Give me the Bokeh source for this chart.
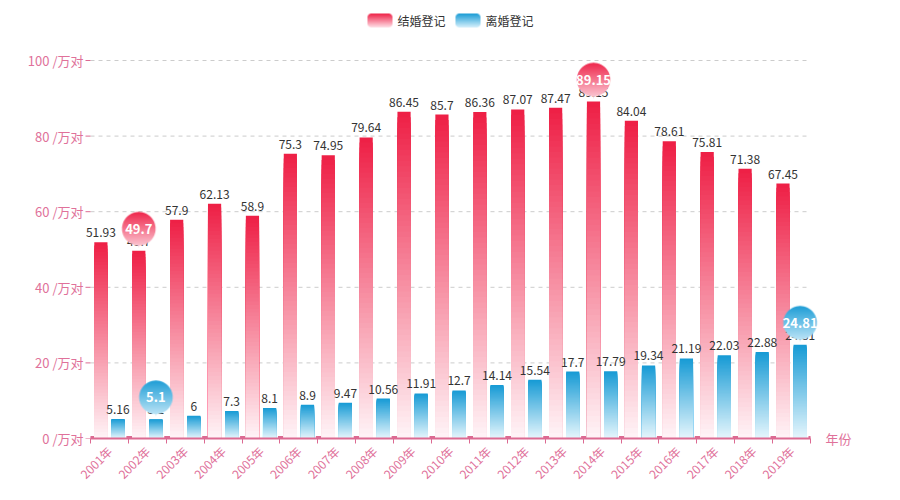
import numpy as np
from bokeh.plotting import figure
from bokeh.models import ColumnDataSource, FixedTicker, Range1d, LinearAxis
from bokeh.core.properties import value
from bokeh.embed import file_html
from bokeh.resources import INLINE

# ---------------- data ----------------
years = ["2001年", "2002年", "2003年", "2004年", "2005年", "2006年", "2007年",
         "2008年", "2009年", "2010年", "2011年", "2012年", "2013年", "2014年",
         "2015年", "2016年", "2017年", "2018年", "2019年"]
marriage = [51.93, 49.7, 57.9, 62.13, 58.9, 75.3, 74.95, 79.64, 86.45, 85.7,
            86.36, 87.07, 87.47, 89.15, 84.04, 78.61, 75.81, 71.38, 67.45]
divorce = [5.16, 5.1, 6, 7.3, 8.1, 8.9, 9.47, 10.56, 11.91, 12.7,
           14.14, 15.54, 17.7, 17.79, 19.34, 21.19, 22.03, 22.88, 24.81]
series_names = ["结婚登记", "离婚登记"]
y_ticks = [0, 20, 40, 60, 80, 100]
y_unit = " /万对"
x_name = "年份"

# ---------------- styles / layout ----------------
FONT = "Noto Sans CJK SC"
PINK = "#e0719a"
AXIS_PINK = "#dc6a92"
RED_TOP, RED_BOT = (238, 32, 70), (255, 246, 249)
BLUE_TOP, BLUE_BOT = (24, 155, 213), (232, 247, 253)

W, H = 900, 500
AX_L, AX_R = 90, 810          # axis extent (px)
AX_B = 438                    # y=0 (px)
FRAME_L = 84                  # frame starts a little left of the axis
FRAME_R = 822                 # and ends a little right of it
n = len(years)
PX_X = (AX_R - AX_L) / n      # pixels per category
PX_Y = 378 / 100              # pixels per y unit
BAR_W = 0.348
OFF = 0.226


def px2x(px):
    return (px - AX_L) / PX_X


def py2y(py):
    return (AX_B - py) / PX_Y


p = figure(width=W, height=H,
           x_range=Range1d(px2x(FRAME_L), px2x(FRAME_R)),
           y_range=Range1d(0, py2y(0)),
           output_backend="svg", toolbar_location=None,
           min_border_left=FRAME_L, min_border_right=W - FRAME_R,
           min_border_top=0, min_border_bottom=H - AX_B)
p.outline_line_color = None
p.xgrid.visible = False
p.ygrid.visible = False

centers = [i + 0.5 for i in range(n)]
bounds = list(range(n + 1))

# axes
p.xaxis.ticker = FixedTicker(ticks=centers, minor_ticks=bounds)
p.xaxis.bounds = (0, n)
p.xaxis.major_label_overrides = {c: y for c, y in zip(centers, years)}
p.xaxis.major_label_orientation = np.pi / 4
p.xaxis.major_tick_out = 0
p.xaxis.major_tick_in = 0
p.xaxis.minor_tick_out = 5
p.xaxis.minor_tick_in = 0
p.xaxis.minor_tick_line_color = AXIS_PINK
p.xaxis.axis_line_color = AXIS_PINK
p.xaxis.axis_line_width = 2
p.xaxis.major_label_text_color = PINK
p.xaxis.major_label_text_font = FONT
p.xaxis.major_label_text_font_size = "12px"
p.xaxis.major_label_standoff = 5

p.yaxis.ticker = FixedTicker(ticks=y_ticks)
p.yaxis.major_label_overrides = {t: f"{t}{y_unit}" for t in y_ticks}
p.yaxis.axis_line_color = None
p.yaxis.major_tick_out = 0
p.yaxis.major_tick_in = 0
p.yaxis.minor_tick_line_color = None
p.yaxis.major_label_text_color = PINK
p.yaxis.major_label_text_font = FONT
p.yaxis.major_label_text_font_size = "13px"
p.yaxis.major_label_standoff = 1

# axis name at the end of the x axis (label of a bare right-hand axis)
name_axis = LinearAxis(ticker=FixedTicker(ticks=[0]),
                       major_label_overrides={0: x_name},
                       axis_line_color=None, major_tick_line_color=None,
                       major_tick_out=0, major_tick_in=0,
                       minor_tick_line_color=None, major_label_standoff=3,
                       major_label_text_color=PINK, major_label_text_font=FONT,
                       major_label_text_font_size="13px")
p.add_layout(name_axis, "right")

# grid lines (limited to the axis extent) and y tick marks
p.segment(x0=0, x1=n, y0=y_ticks[1:], y1=y_ticks[1:], line_color="#cccccc",
          line_dash="4 4", line_width=1)
p.segment(x0=px2x(AX_L - 5), x1=0, y0=y_ticks, y1=y_ticks, line_color=AXIS_PINK,
          line_width=1)
# small thickened marks on the x axis at the category boundaries
p.segment(x0=[max(b - 2 / PX_X, 0) for b in bounds],
          x1=[min(b + 5 / PX_X, n) for b in bounds],
          y0=[1 / PX_Y] * len(bounds), y1=[1 / PX_Y] * len(bounds),
          line_color=AXIS_PINK, line_width=3)


def lerp(top, bot, f):
    return tuple(int(round(b + (t - b) * f)) for t, b in zip(top, bot))


def gradient_bars(xs, vals, top_rgb, bot_rgb, N=60):
    X, TOP, COL = [], [], []
    for k in range(N, 0, -1):
        f = k / N
        hexc = "#%02x%02x%02x" % lerp(top_rgb, bot_rgb, f)
        for x, v in zip(xs, vals):
            X.append(x)
            TOP.append(v * f)
            COL.append(hexc)
    src = ColumnDataSource(dict(x=X, top=TOP, color=COL))
    p.vbar(x="x", top="top", bottom=0, width=BAR_W, fill_color="color",
           line_color=None, source=src)


x_m = [c - OFF for c in centers]
x_d = [c + OFF for c in centers]
gradient_bars(x_m, marriage, RED_TOP, RED_BOT)
gradient_bars(x_d, divorce, BLUE_TOP, BLUE_BOT)

# value labels
for xs, vals in ((x_m, marriage), (x_d, divorce)):
    p.text(x=xs, y=[v + 5 / PX_Y for v in vals], text=[f"{v:g}" for v in vals],
           text_align="center", text_baseline="bottom", text_color="#333333",
           text_font=value(FONT), text_font_size=value("12px"))


# ---------------- pins (markPoint) ----------------
def pin_image(top_rgb, bot_rgb, r=16.8, h=47.0, ss=4):
    dy = r * r / (h - r)
    C = h - r - dy
    ang = np.arcsin(dy / r)
    dx = np.cos(ang) * r
    tx, ty = np.sin(ang), np.cos(ang)
    P0 = (dx, C - dy)
    P1 = (dx - tx * 0.6 * r, C - dy - ty * 0.6 * r)
    P2 = (0.0, 0.7 * r)
    P3 = (0.0, 0.0)
    t = np.linspace(0, 1, 600)
    bx = (1 - t) ** 3 * P0[0] + 3 * (1 - t) ** 2 * t * P1[0] + 3 * (1 - t) * t ** 2 * P2[0] + t ** 3 * P3[0]
    by = (1 - t) ** 3 * P0[1] + 3 * (1 - t) ** 2 * t * P1[1] + 3 * (1 - t) * t ** 2 * P2[1] + t ** 3 * P3[1]
    order = np.argsort(by)
    wpx = int(np.ceil(2 * r)) + 1
    hpx = int(np.ceil(C + r)) + 1
    xs = (np.arange(wpx * ss) + 0.5) / ss - wpx / 2
    ys = (np.arange(hpx * ss) + 0.5) / ss
    XX, YY = np.meshgrid(xs, ys)
    circ = XX ** 2 + (YY - C) ** 2 <= r * r
    hw = np.interp(YY, by[order], bx[order])
    tail = (YY <= C - dy) & (np.abs(XX) <= hw)
    alpha = (circ | tail).reshape(hpx, ss, wpx, ss).mean(axis=(1, 3))
    frac = (np.arange(hpx) + 0.5) / hpx
    img = np.zeros((hpx, wpx), dtype=np.uint32)
    view = img.view(dtype=np.uint8).reshape(hpx, wpx, 4)
    for i in range(3):
        view[:, :, i] = np.round(bot_rgb[i] + (top_rgb[i] - bot_rgb[i]) * frac)[:, None]
    view[:, :, 3] = np.round(alpha * 255).astype(np.uint8)
    return img, wpx, hpx, C


GAP = 1
for xs, vals, top_rgb, bot_rgb in ((x_m, marriage, RED_TOP, (252, 215, 224)),
                                   (x_d, divorce, BLUE_TOP, (205, 236, 250))):
    img, wpx, hpx, C = pin_image(top_rgb, bot_rgb)
    idxs = [int(np.argmax(vals)), int(np.argmin(vals))]
    for i in idxs:
        ytip = vals[i] + GAP / PX_Y
        p.image_rgba(image=[img], x=xs[i] - wpx / 2 / PX_X, y=ytip,
                     dw=wpx / PX_X, dh=hpx / PX_Y)
        p.text(x=[xs[i]], y=[ytip + C / PX_Y], text=[f"{vals[i]:g}"],
               text_align="center", text_baseline="middle", text_color="white",
               text_font=value(FONT), text_font_size=value("13px"),
               text_font_style="bold")


# ---------------- legend ----------------
def round_rect(top_rgb, bot_rgb, w=25, h=14, rad=4, ss=4):
    xs = (np.arange(w * ss) + 0.5) / ss
    ys = (np.arange(h * ss) + 0.5) / ss
    XX, YY = np.meshgrid(xs, ys)
    cx = np.clip(XX, rad, w - rad)
    cy = np.clip(YY, rad, h - rad)
    m = (XX - cx) ** 2 + (YY - cy) ** 2 <= rad * rad
    alpha = m.reshape(h, ss, w, ss).mean(axis=(1, 3))
    frac = (np.arange(h) + 0.5) / h
    img = np.zeros((h, w), dtype=np.uint32)
    view = img.view(dtype=np.uint8).reshape(h, w, 4)
    for i in range(3):
        view[:, :, i] = np.round(bot_rgb[i] + (top_rgb[i] - bot_rgb[i]) * frac)[:, None]
    view[:, :, 3] = np.round(alpha * 255).astype(np.uint8)
    return img


leg_items = [(series_names[0], RED_TOP, (255, 225, 232), 367),
             (series_names[1], BLUE_TOP, (215, 240, 252), 455)]
for name, top_rgb, bot_rgb, lx in leg_items:
    img = round_rect(top_rgb, bot_rgb)
    p.image_rgba(image=[img], x=px2x(lx), y=py2y(27), dw=25 / PX_X, dh=14 / PX_Y)
    p.text(x=[px2x(lx + 30)], y=[py2y(20)], text=[name], text_align="left",
           text_baseline="middle", text_color="#333333",
           text_font=value(FONT), text_font_size=value("12px"))

open("out.html", "w").write(file_html(p, INLINE))
